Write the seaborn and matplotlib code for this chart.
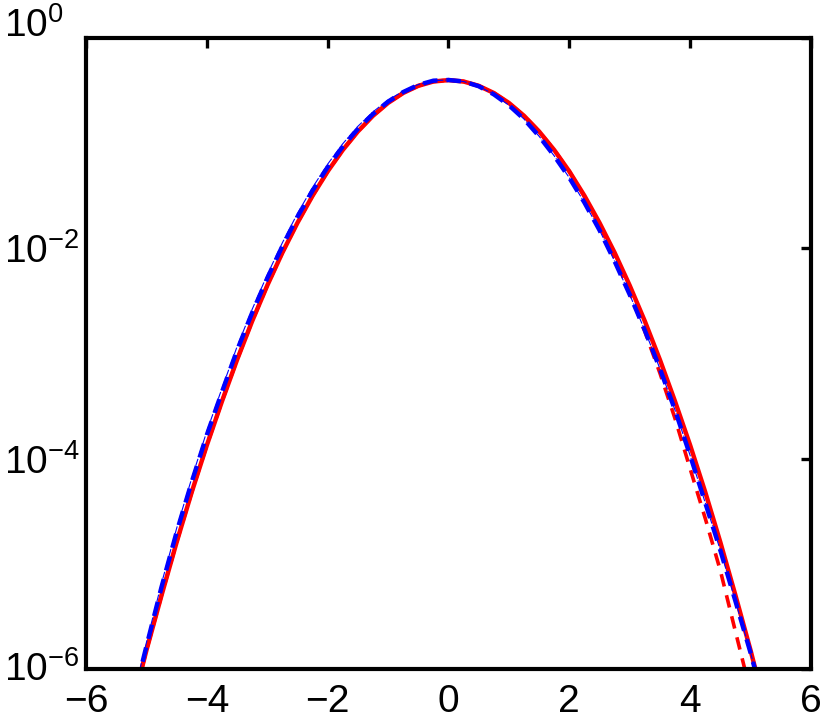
import numpy as np
import pandas as pd
import matplotlib
matplotlib.use('Agg')
import matplotlib.pyplot as plt
import matplotlib.ticker as mticker
import matplotlib.transforms as mtransforms
import seaborn as sns

# =====================================================
# Datos (densidad en escala log)
# =====================================================
x_vals = [-5.25, -5.0, -4.75, -4.5, -4.25, -4.0, -3.75, -3.5, -3.25, -3.0, -2.75,
          -2.5, -2.25, -2.0, -1.75, -1.5, -1.25, -1.0, -0.75, -0.5, -0.25, 0.0,
          0.25, 0.5, 0.75, 1.0, 1.25, 1.5, 1.75, 2.0, 2.25, 2.5, 2.75,
          3.0, 3.25, 3.5, 3.75, 4.0, 4.25, 4.5, 4.75, 5.0, 5.25]

red_solid = [4.1e-7, 1.5e-6, 5.0e-6, 1.6e-5, 4.8e-5, 1.34e-4, 3.5e-4, 8.7e-4, 2.03e-3, 4.43e-3, 9.1e-3,
             0.0175, 0.0317, 0.054, 0.0863, 0.1295, 0.1826, 0.242, 0.301, 0.352, 0.387, 0.399,
             0.387, 0.352, 0.301, 0.242, 0.1826, 0.1295, 0.0863, 0.054, 0.0317, 0.0175, 9.1e-3,
             4.43e-3, 2.03e-3, 8.7e-4, 3.5e-4, 1.34e-4, 4.8e-5, 1.6e-5, 5.0e-6, 1.5e-6, 4.1e-7]

red_dashed = [4.1e-7, 1.5e-6, 5.0e-6, 1.6e-5, 4.8e-5, 1.34e-4, 3.5e-4, 8.7e-4, 2.03e-3, 4.43e-3, 9.1e-3,
              0.0175, 0.0317, 0.054, 0.0863, 0.1295, 0.1826, 0.242, 0.301, 0.352, 0.387, 0.399,
              0.387, 0.352, 0.301, 0.242, 0.1826, 0.1295, 0.0863, 0.054, 0.031, 0.0166, 8.2e-3,
              3.8e-3, 1.62e-3, 6.5e-4, 2.4e-4, 8.0e-5, 2.7e-5, 8.6e-6, 2.26e-6, 6.0e-7, 1.6e-7]

blue_dashed = [4.3e-7, 1.64e-6, 6.0e-6, 2.0e-5, 6.0e-5, 1.68e-4, 4.3e-4, 1.07e-3, 2.44e-3, 5.2e-3, 0.0105,
               0.0200, 0.0355, 0.0594, 0.0932, 0.137, 0.190, 0.249, 0.307, 0.359, 0.394, 0.40,
               0.387, 0.349, 0.292, 0.230, 0.170, 0.1166, 0.0759, 0.047, 0.0273, 0.0149, 7.54e-3,
               3.63e-3, 1.66e-3, 7.16e-4, 2.89e-4, 1.07e-4, 3.8e-5, 1.34e-5, 4.4e-6, 1.42e-6, 4.1e-7]

blue_dashdot = [4.6e-7, 1.78e-6, 6.5e-6, 2.17e-5, 6.5e-5, 1.82e-4, 4.65e-4, 1.16e-3, 2.63e-3, 5.6e-3, 0.0113,
                0.0215, 0.038, 0.0633, 0.099, 0.145, 0.199, 0.258, 0.313, 0.362, 0.395, 0.40,
                0.387, 0.349, 0.292, 0.230, 0.170, 0.1166, 0.0759, 0.047, 0.0273, 0.0149, 7.54e-3,
                3.63e-3, 1.66e-3, 7.16e-4, 2.89e-4, 1.07e-4, 3.8e-5, 1.34e-5, 4.4e-6, 1.42e-6, 4.1e-7]

x_ticks = [-6, -4, -2, 0, 2, 4, 6]
y_ticks = [1e-6, 1e-4, 1e-2, 1e0]

# =====================================================
# Estilo
# =====================================================
sns.set_theme(style='white')
plt.rcParams['font.family'] = ['Liberation Sans', 'DejaVu Sans']
plt.rcParams['mathtext.fontset'] = 'custom'
plt.rcParams['mathtext.rm'] = 'Liberation Sans'
plt.rcParams['mathtext.it'] = 'Liberation Sans:italic'
plt.rcParams['mathtext.bf'] = 'Liberation Sans:bold'

df = pd.DataFrame({'x': x_vals, 'red_solid': red_solid, 'red_dashed': red_dashed,
                   'blue_dashed': blue_dashed, 'blue_dashdot': blue_dashdot})

fig = plt.figure(figsize=(8.3, 7.2), dpi=100)
ax = fig.add_axes([0.1036, 0.071, 0.8735, 0.876])

sns.lineplot(data=df, x='x', y='red_dashed', ax=ax, color='red', lw=2.6,
             linestyle=(0, (3.5, 2.5)), sort=False)
sns.lineplot(data=df, x='x', y='red_solid', ax=ax, color='red', lw=3.2, sort=False)
sns.lineplot(data=df, x='x', y='blue_dashed', ax=ax, color='blue', lw=3.2,
             linestyle=(0, (3.3, 2)), sort=False)
sns.lineplot(data=df, x='x', y='blue_dashdot', ax=ax, color='blue', lw=0.8,
             linestyle='-.', sort=False)

ax.set_yscale('log')
ax.set_xlim(-6, 6)
ax.set_ylim(1e-6, 1e0)
ax.set_xticks(x_ticks)
ax.set_yticks(y_ticks)
ax.yaxis.set_major_formatter(mticker.LogFormatterSciNotation())
ax.yaxis.set_minor_locator(mticker.NullLocator())
ax.set_xlabel('')
ax.set_ylabel('')

for s in ax.spines.values():
    s.set_linewidth(3.0)
    s.set_color('black')
ax.tick_params(which='major', direction='in', length=7, width=2.4, top=True, right=True,
               labelsize=28, colors='black')
ax.tick_params(axis='x', pad=11)
ax.tick_params(axis='y', pad=59)

# etiquetas del eje y alineadas a la izquierda, como en el original
for lab in ax.get_yticklabels():
    lab.set_horizontalalignment('left')
# la etiqueta 10^0 queda algo por encima del eje, 10^-6 un poco tambien
yticks_obj = ax.yaxis.get_major_ticks()
top_lab = yticks_obj[-1].label1
top_lab.set_transform(top_lab.get_transform() +
                      mtransforms.ScaledTranslation(0, 16 / 100, fig.dpi_scale_trans))
bot_lab = yticks_obj[0].label1
bot_lab.set_transform(bot_lab.get_transform() +
                      mtransforms.ScaledTranslation(0, 3 / 100, fig.dpi_scale_trans))

fig.savefig('out.png', dpi=100)
